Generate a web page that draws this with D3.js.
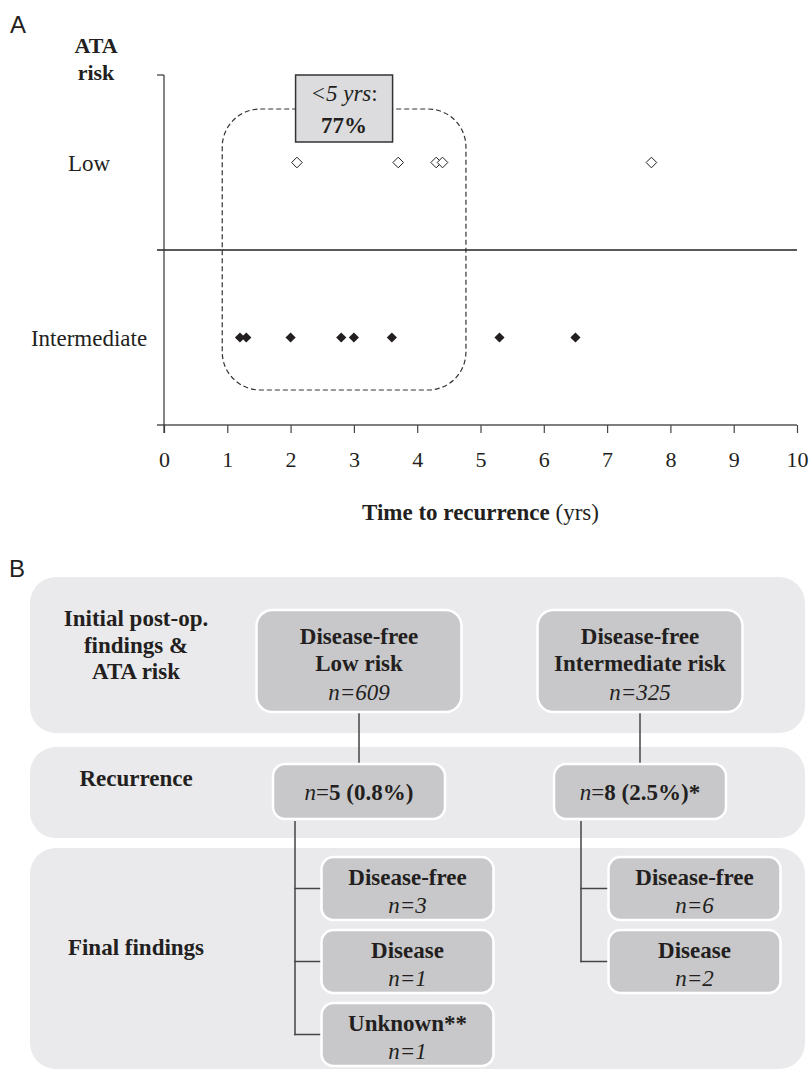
<html>
<head>
<meta charset="utf-8">
<title>ATA risk recurrence</title>
<style>
body {
  margin: 0;
  background: #fff;
}
svg text {
  font-family: "Liberation Serif", "Times New Roman", serif;
  fill: #231f20;
}
.panel-letter {
  font-family: "Liberation Sans", Arial, sans-serif;
  font-size: 24px;
}
</style>
</head>
<body>
<div id="vis"></div>

<script src="https://d3js.org/d3.v7.min.js"></script>
<script>

// ---- panel A data
var riskLevels = ["Low", "Intermediate"];
var lowTimes = [2.1, 3.7, 4.3, 4.4, 7.7];
var intermediateTimes = [1.2, 1.3, 2.0, 2.8, 3.0, 3.6, 5.3, 6.5];
var xTickValues = [0, 1, 2, 3, 4, 5, 6, 7, 8, 9, 10];
var under5Range = [0.92, 4.77];
var under5Text = ["<5 yrs", "77%"];

// ---- panel B data
var stageLabels = [["Initial post-op.", "findings &", "ATA risk"], ["Recurrence"], ["Final findings"]];
var initialGroups = [["Disease-free", "Low risk", "609"], ["Disease-free", "Intermediate risk", "325"]];
var recurrenceN = ["5", "8"];
var recurrencePct = ["(0.8%)", "(2.5%)*"];
var finalLow = [["Disease-free", "3"], ["Disease", "1"], ["Unknown**", "1"]];
var finalIntermediate = [["Disease-free", "6"], ["Disease", "2"]];

var W = 809, H = 1071;
var svg = d3.select("#vis").append("svg")
    .attr("width", W)
    .attr("height", H);

// ================= panel A =================
svg.append("text").attr("class", "panel-letter")
    .attr("x", 10).attr("y", 33).text("A");

var x = d3.scaleLinear().domain([0, 10]).range([164, 797]);
var y = d3.scaleBand().domain(riskLevels).range([75, 425]);

var gA = svg.append("g");

// x axis
var xAxis = d3.axisBottom(x)
    .tickValues(xTickValues)
    .tickSize(8)
    .tickSizeOuter(0)
    .tickPadding(18);

var ax = gA.append("g")
    .attr("transform", "translate(0," + y.range()[1] + ")")
    .call(xAxis);
ax.select(".domain").remove();
ax.selectAll(".tick line").attr("stroke", "#444").attr("stroke-width", 1.2);
ax.selectAll(".tick text")
    .style("font-family", '"Liberation Serif", "Times New Roman", serif')
    .style("font-size", "22px")
    .attr("fill", "#231f20");

// horizontal lines at band boundaries
var boundaries = [y.range()[0], y.range()[0] + y.step(), y.range()[1]];
gA.append("line")
    .attr("x1", x(0) - 7).attr("x2", x(0))
    .attr("y1", boundaries[0]).attr("y2", boundaries[0])
    .attr("stroke", "#333").attr("stroke-width", 1.2);
gA.append("line")
    .attr("x1", x(0) - 7).attr("x2", x(10))
    .attr("y1", boundaries[1]).attr("y2", boundaries[1])
    .attr("stroke", "#222").attr("stroke-width", 1.4);
gA.append("line")
    .attr("x1", x(0) - 7).attr("x2", x(10))
    .attr("y1", boundaries[2]).attr("y2", boundaries[2])
    .attr("stroke", "#555").attr("stroke-width", 1.6);
// y axis
gA.append("line")
    .attr("x1", x(0)).attr("x2", x(0))
    .attr("y1", boundaries[0]).attr("y2", boundaries[2] + 8)
    .attr("stroke", "#333").attr("stroke-width", 1.2);

// y category labels
gA.selectAll(".cat")
  .data(riskLevels)
  .enter().append("text")
    .attr("x", 89)
    .attr("y", function(d) { return y(d) + y.bandwidth() / 2; })
    .attr("dy", "0.35em")
    .attr("text-anchor", "middle")
    .style("font-size", "23px")
    .text(function(d) { return d; });

// y title
gA.append("text")
    .attr("x", 96).attr("y", 53)
    .attr("text-anchor", "middle")
    .style("font-size", "22px").style("font-weight", "bold")
    .text("ATA");
gA.append("text")
    .attr("x", 96).attr("y", 80)
    .attr("text-anchor", "middle")
    .style("font-size", "22px").style("font-weight", "bold")
    .text("risk");

// x title
var xt = gA.append("text")
    .attr("x", (x(0) + x(10)) / 2).attr("y", 520)
    .attr("text-anchor", "middle")
    .style("font-size", "23px");
xt.append("tspan").style("font-weight", "bold").text("Time to recurrence");
xt.append("tspan").text(" (yrs)");

// dashed highlight (< 5 yrs)
var dashTop = y("Low") + 34, dashBottom = y("Intermediate") + y.bandwidth() - 35;
gA.append("rect")
    .attr("x", x(under5Range[0]))
    .attr("y", dashTop)
    .attr("width", x(under5Range[1]) - x(under5Range[0]))
    .attr("height", dashBottom - dashTop)
    .attr("rx", 38).attr("ry", 38)
    .attr("fill", "none")
    .attr("stroke", "#333")
    .attr("stroke-width", 1.2)
    .attr("stroke-dasharray", "5,3");

// label box on top of the dashed line
var bx = (x(under5Range[0]) + x(under5Range[1])) / 2;
var labelBox = gA.append("g");
labelBox.append("rect")
    .attr("x", bx - 48.5).attr("y", y.range()[0])
    .attr("width", 97).attr("height", 67)
    .attr("fill", "#dcdcde")
    .attr("stroke", "#333").attr("stroke-width", 1.5);
var lt = labelBox.append("text")
    .attr("x", bx).attr("y", 101)
    .attr("text-anchor", "middle")
    .style("font-size", "23px");
lt.append("tspan").style("font-style", "italic").text(under5Text[0]);
lt.append("tspan").text(":");
labelBox.append("text")
    .attr("x", bx).attr("y", 133)
    .attr("text-anchor", "middle")
    .style("font-size", "23px").style("font-weight", "bold")
    .text(under5Text[1]);

// diamonds
var diamond = d3.symbol().type(d3.symbolDiamond2);
gA.selectAll(".low")
  .data(lowTimes)
  .enter().append("path")
    .attr("d", diamond.size(72)())
    .attr("transform", function(d) { return "translate(" + x(d) + "," + (y("Low") + y.bandwidth() / 2) + ")"; })
    .attr("fill", "#fff")
    .attr("stroke", "#231f20")
    .attr("stroke-width", 1);
gA.selectAll(".int")
  .data(intermediateTimes)
  .enter().append("path")
    .attr("d", diamond.size(66)())
    .attr("transform", function(d) { return "translate(" + x(d) + "," + (y("Intermediate") + y.bandwidth() / 2) + ")"; })
    .attr("fill", "#231f20");

// ================= panel B =================
svg.append("text").attr("class", "panel-letter")
    .attr("x", 9).attr("y", 577).text("B");

var gB = svg.append("g");
var panelFill = "#eaeaec", boxFill = "#c8c8ca";

var panels = [[577, 733], [747, 838], [848, 1069]];
gB.selectAll(".panel")
  .data(panels)
  .enter().append("rect")
    .attr("x", 30).attr("width", 775)
    .attr("y", function(d) { return d[0]; })
    .attr("height", function(d) { return d[1] - d[0]; })
    .attr("rx", 26).attr("ry", 26)
    .attr("fill", panelFill);

// stage labels
var stageY = [618, 778, 947];
stageLabels.forEach(function(lines, i) {
  var t = gB.append("text")
      .attr("x", 136).attr("y", stageY[i])
      .attr("text-anchor", "middle")
      .style("font-size", "23px").style("font-weight", "bold");
  lines.forEach(function(l, j) {
    t.append("tspan").attr("x", 136).attr("dy", j === 0 ? "0.35em" : "1.15em").text(l);
  });
});

function box(x0, y0, w, h, r) {
  gB.append("rect")
    .attr("x", x0).attr("y", y0).attr("width", w).attr("height", h)
    .attr("rx", r).attr("ry", r)
    .attr("fill", boxFill)
    .attr("stroke", "#fff").attr("stroke-width", 2.5);
}
function line(x1, y1, x2, y2) {
  gB.append("line")
    .attr("x1", x1).attr("y1", y1).attr("x2", x2).attr("y2", y2)
    .attr("stroke", "#444").attr("stroke-width", 1.5);
}

var colCx = [359, 640];
var initW = 205, recW = 172, finW = 172, finH = 63;
var finCx = [407.5, 694.5];
var branchX = [295, 581];
var finTops = [857, 930, 1003];

// connectors initial -> recurrence
colCx.forEach(function(cx) { line(cx, 712, cx, 764); });

// initial boxes
initialGroups.forEach(function(g, i) {
  var cx = colCx[i];
  box(cx - initW / 2, 610, initW, 102, 16);
  var t = gB.append("text").attr("text-anchor", "middle").style("font-size", "23px");
  t.append("tspan").attr("x", cx).attr("y", 644).style("font-weight", "bold").text(g[0]);
  t.append("tspan").attr("x", cx).attr("y", 671).style("font-weight", "bold").text(g[1]);
  t.append("tspan").attr("x", cx).attr("y", 700).style("font-style", "italic").text("n=" + g[2]);
});

// recurrence boxes
recurrenceN.forEach(function(n, i) {
  var cx = colCx[i];
  box(cx - recW / 2, 764, recW, 55, 12);
  var t = gB.append("text").attr("x", cx).attr("y", 800)
      .attr("text-anchor", "middle").style("font-size", "23px");
  t.append("tspan").style("font-style", "italic").text("n");
  t.append("tspan").text("=");
  t.append("tspan").style("font-weight", "bold").text(n + " " + recurrencePct[i]);
});

// final findings
[finalLow, finalIntermediate].forEach(function(items, i) {
  var bxl = branchX[i];
  var last = finTops[items.length - 1] + finH / 2;
  line(bxl, 821, bxl, last + 0.75);
  items.forEach(function(it, j) {
    var top = finTops[j];
    line(bxl - 0.75, top + finH / 2, finCx[i] - finW / 2, top + finH / 2);
    box(finCx[i] - finW / 2, top, finW, finH, 12);
    var t = gB.append("text").attr("text-anchor", "middle").style("font-size", "23px");
    t.append("tspan").attr("x", finCx[i]).attr("y", top + 28).style("font-weight", "bold").text(it[0]);
    t.append("tspan").attr("x", finCx[i]).attr("y", top + 56).style("font-style", "italic").text("n=" + it[1]);
  });
});

</script>
</body>
</html>
